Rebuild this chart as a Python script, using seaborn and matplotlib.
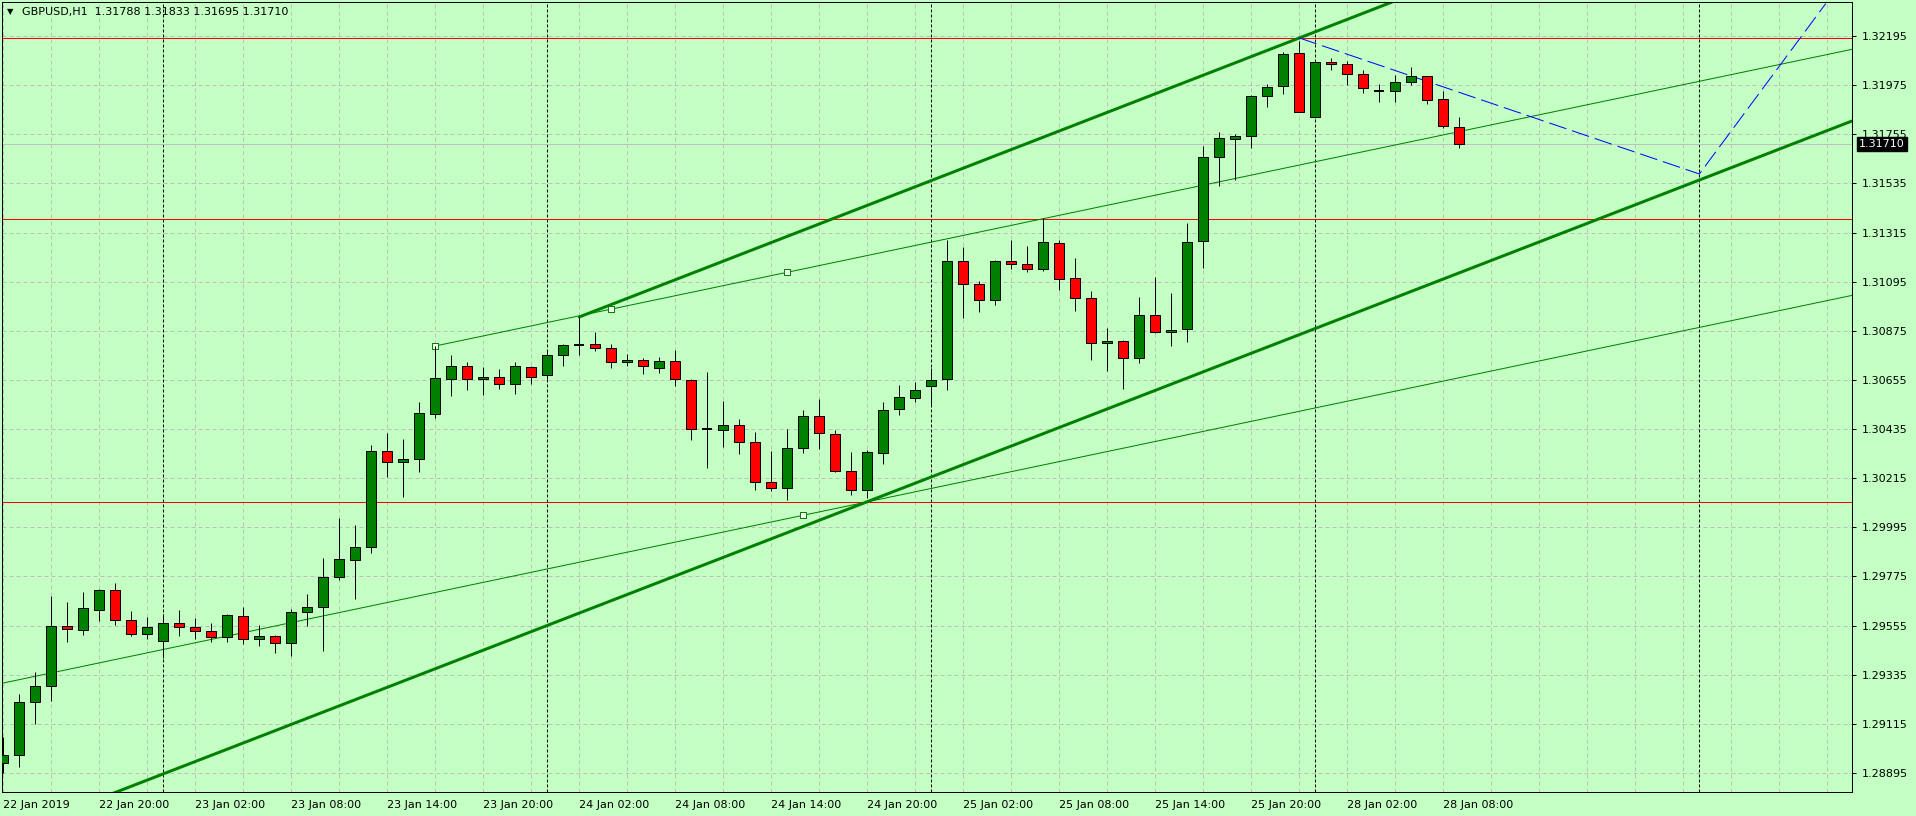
import numpy as np
import pandas as pd
import matplotlib
matplotlib.use("Agg")
import matplotlib.pyplot as plt
import matplotlib.transforms as mtransforms
import seaborn as sns

# ---------------- data (GBPUSD, H1) ----------------
opens = [1.28940, 1.28975, 1.29213, 1.29284, 1.29553, 1.29535, 1.29625, 1.29714, 1.29580, 1.29517,
         1.29486, 1.29566, 1.29549, 1.29531, 1.29504, 1.29598, 1.29495, 1.29508, 1.29477, 1.29616,
         1.29638, 1.29772, 1.29849, 1.29907, 1.30337, 1.30287, 1.30301, 1.30502, 1.30659, 1.30717,
         1.30659, 1.30668, 1.30637, 1.30713, 1.30677, 1.30767, 1.30811, 1.30816, 1.30798, 1.30735,
         1.30744, 1.30708, 1.30740, 1.30655, 1.30435, 1.30431, 1.30453, 1.30377, 1.30198, 1.30171,
         1.30350, 1.30493, 1.30413, 1.30247, 1.30162, 1.30328, 1.30525, 1.30574, 1.30628, 1.30659,
         1.31187, 1.31084, 1.31013, 1.31187, 1.31174, 1.31152, 1.31268, 1.31111, 1.31022, 1.30820,
         1.30829, 1.30753, 1.30946, 1.30870, 1.30883, 1.31277, 1.31653, 1.31734, 1.31747, 1.31926,
         1.31971, 1.32119, 1.31832, 1.32079, 1.32070, 1.32025, 1.31949, 1.31949, 1.31989, 1.32016,
         1.31913, 1.31788]
highs = [1.29056, 1.29248, 1.29347, 1.29687, 1.29660, 1.29705, 1.29719, 1.29746, 1.29620, 1.29593,
         1.29607, 1.29625, 1.29589, 1.29566, 1.29605, 1.29638, 1.29557, 1.29512, 1.29629, 1.29696,
         1.29858, 1.30037, 1.30005, 1.30363, 1.30417, 1.30390, 1.30556, 1.30807, 1.30767, 1.30735,
         1.30713, 1.30704, 1.30735, 1.30717, 1.30789, 1.30816, 1.30937, 1.30870, 1.30816, 1.30771,
         1.30753, 1.30758, 1.30789, 1.30659, 1.30690, 1.30561, 1.30480, 1.30422, 1.30337, 1.30435,
         1.30520, 1.30570, 1.30431, 1.30332, 1.30341, 1.30556, 1.30632, 1.30646, 1.30708, 1.31282,
         1.31250, 1.31098, 1.31192, 1.31282, 1.31255, 1.31380, 1.31282, 1.31201, 1.31053, 1.30887,
         1.30834, 1.31026, 1.31116, 1.31044, 1.31358, 1.31702, 1.31765, 1.31756, 1.31931, 1.31980,
         1.32123, 1.32173, 1.32087, 1.32096, 1.32083, 1.32043, 1.31980, 1.32020, 1.32056, 1.32016,
         1.31949, 1.31833]
lows = [1.28895, 1.28922, 1.29114, 1.29217, 1.29481, 1.29513, 1.29575, 1.29557, 1.29508, 1.29495,
        1.29410, 1.29508, 1.29495, 1.29481, 1.29481, 1.29472, 1.29463, 1.29432, 1.29419, 1.29553,
        1.29441, 1.29759, 1.29674, 1.29880, 1.30220, 1.30131, 1.30243, 1.30484, 1.30583, 1.30610,
        1.30587, 1.30614, 1.30592, 1.30637, 1.30659, 1.30717, 1.30767, 1.30784, 1.30708, 1.30717,
        1.30681, 1.30686, 1.30628, 1.30386, 1.30260, 1.30355, 1.30323, 1.30162, 1.30158, 1.30117,
        1.30328, 1.30346, 1.30243, 1.30140, 1.30126, 1.30278, 1.30498, 1.30556, 1.30538, 1.30610,
        1.30932, 1.30959, 1.30990, 1.31152, 1.31138, 1.31143, 1.31058, 1.30964, 1.30744, 1.30695,
        1.30614, 1.30731, 1.30865, 1.30807, 1.30825, 1.31156, 1.31523, 1.31550, 1.31693, 1.31877,
        1.31935, 1.31855, 1.31828, 1.32043, 1.31976, 1.31940, 1.31899, 1.31899, 1.31976, 1.31890,
        1.31783, 1.31695]
closes = [1.28975, 1.29213, 1.29284, 1.29553, 1.29540, 1.29634, 1.29714, 1.29580, 1.29517, 1.29549,
          1.29566, 1.29549, 1.29531, 1.29504, 1.29602, 1.29495, 1.29508, 1.29477, 1.29616, 1.29638,
          1.29772, 1.29853, 1.29907, 1.30337, 1.30287, 1.30301, 1.30507, 1.30664, 1.30717, 1.30659,
          1.30668, 1.30637, 1.30717, 1.30668, 1.30767, 1.30811, 1.30811, 1.30798, 1.30735, 1.30744,
          1.30717, 1.30740, 1.30659, 1.30435, 1.30435, 1.30453, 1.30377, 1.30198, 1.30171, 1.30350,
          1.30493, 1.30417, 1.30247, 1.30162, 1.30332, 1.30520, 1.30578, 1.30610, 1.30655, 1.31187,
          1.31084, 1.31013, 1.31187, 1.31174, 1.31152, 1.31273, 1.31107, 1.31022, 1.30820, 1.30829,
          1.30753, 1.30946, 1.30870, 1.30879, 1.31273, 1.31653, 1.31738, 1.31747, 1.31926, 1.31967,
          1.32114, 1.31855, 1.32079, 1.32070, 1.32025, 1.31962, 1.31949, 1.31989, 1.32016, 1.31908,
          1.31792, 1.31710]

# bar timestamps (weekend gap between 25 Jan 23:00 and 28 Jan 00:00)
times = list(pd.date_range("2019-01-22 14:00", "2019-01-25 23:00", freq="h")) + \
        list(pd.date_range("2019-01-28 00:00", "2019-01-28 09:00", freq="h"))

tick_bars = [0, 6, 12, 18, 24, 30, 36, 42, 48, 54, 60, 66, 72, 78, 84, 90]
tick_labels = ["22 Jan 2019", "22 Jan 20:00", "23 Jan 02:00", "23 Jan 08:00", "23 Jan 14:00",
               "23 Jan 20:00", "24 Jan 02:00", "24 Jan 08:00", "24 Jan 14:00", "24 Jan 20:00",
               "25 Jan 02:00", "25 Jan 08:00", "25 Jan 14:00", "25 Jan 20:00", "28 Jan 02:00",
               "28 Jan 08:00"]
price_ticks = [1.28895, 1.29115, 1.29335, 1.29555, 1.29775, 1.29995, 1.30215, 1.30435,
               1.30655, 1.30875, 1.31095, 1.31315, 1.31535, 1.31755, 1.31975, 1.32195]

# horizontal levels (red)
levels = [1.32185, 1.31375, 1.30107]
# trend objects: (bar, price) anchor points
channel_lower = [(7, 1.28808), (106, 1.31550)]
channel_upper = [(36, 1.30937), (81, 1.32186)]
trend_a = [(27, 1.30807), (49, 1.31137)]
trend_b = [(0, 1.29298), (50, 1.30049)]
zigzag_bar = [81, 106, 113.9]
zigzag_price = [1.32186, 1.31577, 1.32340]

symbol = "GBPUSD,H1"

# ---------------- style ----------------
BG = "#C4FFC4"
sns.set_style("white")
plt.rcParams["font.family"] = ["DejaVu Sans"]
PX = 0.72  # one pixel in points at dpi 100

W, H = 1916, 816
fig = plt.figure(figsize=(W / 100, H / 100), dpi=100, facecolor=BG)
ax = fig.add_axes([2 / W, 1 - 792 / H, (1852 - 2) / W, (792 - 2) / H])
ax.set_facecolor(BG)

n = len(closes)
xs = np.arange(n)
XMIN, XMAX = -0.08, 115.54
YMIN, YMAX = 1.28810, 1.32347
ax.set_xlim(XMIN, XMAX)
ax.set_ylim(YMIN, YMAX)

# grid
for gx in range(0, int(XMAX) + 1, 3):
    ax.axvline(gx, color="#BDBDBD", lw=PX, ls=(0, (4, 3)), zorder=0.5)
for gy in price_ticks:
    ax.axhline(gy, color="#BDBDBD", lw=PX, ls=(0, (4, 3)), zorder=0.5)

# day separators (midnight bars, plus next day in the shift area)
sep = [i for i, t in enumerate(times) if t.hour == 0]
sep.append(sep[-1] + 24)
for sx in sep:
    ax.axvline(sx, color="black", lw=PX, ls=(0, (3, 2)), zorder=1)

# horizontal levels
for lv in levels:
    ax.axhline(lv, color="#FF0000", lw=PX, zorder=1.5)

# bid line
ax.axhline(closes[-1], color="#C0C0C0", lw=PX, zorder=1.4)


def ray(pts, x_start=None, x_end=XMAX):
    (x0, y0), (x1, y1) = pts
    k = (y1 - y0) / (x1 - x0)
    xa = x0 if x_start is None else x_start
    return [xa, x_end], [y0 + k * (xa - x0), y0 + k * (x_end - x0)]


GREEN = "#008000"
for pts, lw, xs0 in [(channel_lower, 3 * PX, 0), (channel_upper, 3 * PX, None),
                     (trend_a, PX, None), (trend_b, PX, XMIN)]:
    lx, ly = ray(pts, xs0)
    sns.lineplot(x=lx, y=ly, ax=ax, color=GREEN, linewidth=lw, estimator=None,
                 sort=False, zorder=2)

ax.plot(zigzag_bar, zigzag_price, color="#0000FF", lw=PX, ls=(0, (18, 6)), zorder=2.2)

# anchor markers
mk_x = [trend_a[0][0], (trend_a[0][0] + trend_a[1][0]) / 2, trend_a[1][0], trend_b[1][0]]
mk_y = [trend_a[0][1], (trend_a[0][1] + trend_a[1][1]) / 2, trend_a[1][1], trend_b[1][1]]
sns.scatterplot(x=mk_x, y=mk_y, ax=ax, marker="s", s=14, facecolor="white",
                edgecolor=GREEN, linewidth=PX, zorder=2.5)

# candles (drawn in foreground)
o = np.array(opens); c = np.array(closes); h = np.array(highs); l = np.array(lows)
ax.vlines(xs, l, h, color="black", lw=PX, zorder=3)
bw = 0.62
up = c > o
dn = c < o
eq = c == o
ax.bar(xs[up], (c - o)[up], bottom=o[up], width=bw, color="#008000",
       edgecolor="black", linewidth=PX, zorder=4)
ax.bar(xs[dn], (o - c)[dn], bottom=c[dn], width=bw, color="#FF0000",
       edgecolor="black", linewidth=PX, zorder=4)
ax.hlines(c[eq], xs[eq] - bw / 2, xs[eq] + bw / 2, color="black", lw=2 * PX, zorder=4)

# axes decoration
for s in ax.spines.values():
    s.set_color("black")
    s.set_linewidth(PX)
ax.yaxis.tick_right()
ax.set_yticks(price_ticks)
ax.set_yticklabels([f"{p:.5f}" for p in price_ticks])
ax.tick_params(axis="y", direction="out", length=3, width=PX, pad=4, labelsize=8,
               colors="black", left=False, right=True)
ax.set_xticks(tick_bars)
ax.set_xticklabels(tick_labels, ha="left")
ax.tick_params(axis="x", direction="out", length=4, width=PX, pad=2, labelsize=8,
               colors="black")
ax.set_xlabel("")
ax.set_ylabel("")

# current price box
tr = mtransforms.blended_transform_factory(ax.transAxes, ax.transData)
ax.text(1.0, closes[-1], f"{closes[-1]:.5f}", transform=tr,
        ha="left", va="center", fontsize=8, color="white", zorder=10, clip_on=False,
        bbox=dict(boxstyle="square,pad=0.2", fc="black", ec="black"))
# shift the box a bit right of spine
ax.texts[-1].set_position((1.0 + 7 / 1850, closes[-1]))

# header
header = f"{symbol}  {opens[-1]:.5f} {highs[-1]:.5f} {lows[-1]:.5f} {closes[-1]:.5f}"
fig.text(7 / W, 1 - 12 / H, "\u25BC", fontsize=6, va="center", ha="left", color="black")
fig.text(22 / W, 1 - 12 / H, header, fontsize=8, va="center", ha="left", color="black")

fig.savefig("out.png", dpi=100, facecolor=BG)
